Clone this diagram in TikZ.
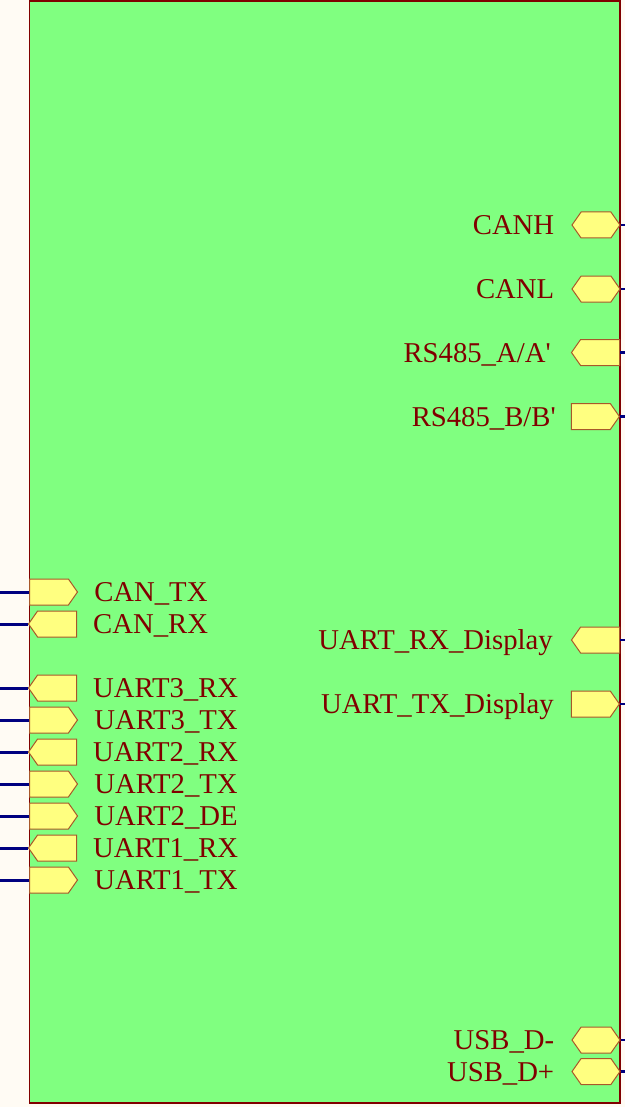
\documentclass[tikz,border=0pt]{standalone}
\usepackage{fontspec}
\setmainfont{Liberation Serif}
\usepackage{tikz}
\usetikzlibrary{positioning,shapes.symbols}
\definecolor{paper}{HTML}{FFFBF4}
\definecolor{sheetgreen}{HTML}{80FF80}
\definecolor{sheetred}{HTML}{800000}
\definecolor{portyellow}{HTML}{FFFF80}
\definecolor{portbrown}{HTML}{A8582A}
\definecolor{wireblue}{HTML}{000080}
\tikzset{
  port/.style={signal,draw=portbrown,fill=portyellow,line width=1pt,
    minimum width=48pt,minimum height=26pt,inner sep=0pt,
    signal pointer angle=110},
  portlabel/.style={text=sheetred,inner sep=0pt,text height=19pt,text depth=0pt,
    font=\fontsize{28.7}{30}\selectfont},
  wire/.style={draw=wireblue,line width=3pt},
  stub/.style={draw=wireblue,line width=2.2pt}
}
\def\outport{\node[port,signal to=east]}
\def\inport{\node[port,signal to=west]}
\def\bidiport{\node[port,signal to=east and west]}

\begin{document}
\begin{tikzpicture}[x=1pt,y=-1pt]
\useasboundingbox[fill=paper] (0,0) rectangle (625,1107);
\draw[fill=sheetgreen,draw=sheetred,line width=1.5pt] (29.5,1) rectangle (620,1103);
\coordinate (leftedge) at (0,0);
\coordinate (rightedge) at (625,0);

% left side ports
\outport[anchor=west] (cantx) at (29,592) {};
\inport[anchor=east] (canrx) at (77,624) {};
\inport[anchor=east] (uartthreerx) at (77,688) {};
\outport[anchor=west] (uartthreetx) at (29,720) {};
\inport[anchor=east] (uarttworx) at (77,752) {};
\outport[anchor=west] (uarttwotx) at (29,784) {};
\outport[anchor=west] (uarttwode) at (29,816) {};
\inport[anchor=east] (uartonerx) at (77,848) {};
\outport[anchor=west] (uartonetx) at (29,880) {};

\node[portlabel,right=16pt of cantx] {CAN\_TX};
\node[portlabel,right=16pt of canrx] {CAN\_RX};
\node[portlabel,right=16pt of uartthreerx] {UART3\_RX};
\node[portlabel,right=16pt of uartthreetx] {UART3\_TX};
\node[portlabel,right=16pt of uarttworx] {UART2\_RX};
\node[portlabel,right=16pt of uarttwotx] {UART2\_TX};
\node[portlabel,right=16pt of uarttwode] {UART2\_DE};
\node[portlabel,right=16pt of uartonerx] {UART1\_RX};
\node[portlabel,right=16pt of uartonetx] {UART1\_TX};

\foreach \p in {cantx,canrx,uartthreerx,uartthreetx,uarttworx,uarttwotx,uarttwode,uartonerx,uartonetx}
  \draw[wire] (\p.west) -- (\p.west -| leftedge);

% right side ports
\bidiport (canh) at (596,225) {};
\bidiport (canl) at (596,289) {};
\inport[anchor=east] (rsa) at (620,352.5) {};
\outport[anchor=east] (rsb) at (620,416.5) {};
\inport[anchor=east] (uartrxdisp) at (620,640) {};
\outport[anchor=east] (uarttxdisp) at (620,704) {};
\bidiport (usbdm) at (596,1040) {};
\bidiport (usbdp) at (596,1071.5) {};

\node[portlabel,left=17pt of canh] {CANH};
\node[portlabel,left=17pt of canl] {CANL};
\node[portlabel,left=20pt of rsa] {RS485\_A/A\textquotesingle};
\node[portlabel,left=15pt of rsb] {RS485\_B/B\textquotesingle};
\node[portlabel,left=18pt of uartrxdisp] {UART\_RX\_Display};
\node[portlabel,left=17pt of uarttxdisp] {UART\_TX\_Display};
\node[portlabel,left=17pt of usbdm] {USB\_D-};
\node[portlabel,left=17pt of usbdp] {USB\_D+};

\foreach \p in {canh,canl,rsa,rsb,uartrxdisp,uarttxdisp,usbdm,usbdp}
  \draw[stub] (\p.east) -- (\p.east -| rightedge);
\end{tikzpicture}
\end{document}
